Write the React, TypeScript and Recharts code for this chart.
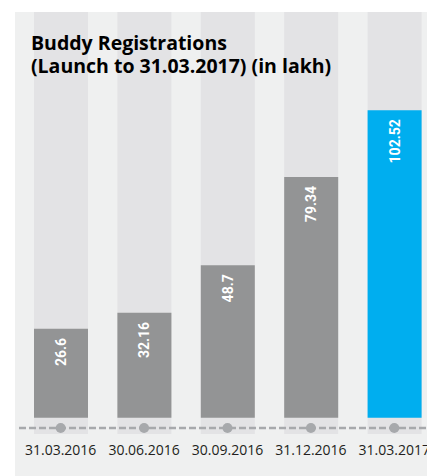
import React from 'react';
import { ComposedChart, Bar, Line, XAxis, YAxis, ReferenceLine, Cell, LabelList } from 'recharts';

const categories = ['31.03.2016', '30.06.2016', '30.09.2016', '31.12.2016', '31.03.2017'];
const registrations = [26.6, 32.16, 48.7, 79.34, 102.52];
const highlighted = [false, false, false, false, true];
const titleLines = ['Buddy Registrations', '(Launch to 31.03.2017) (in lakh)'];

const Y_DOMAIN: [number, number] = [-9.9, 136.6];
const BAR_BASE = -4.24;
const RAIL_LEVEL = -7.8;

const data = categories.map((c, i) => ({ cat: c, value: registrations[i], hl: highlighted[i] }));

const GRAY = '#939495';
const BLUE = '#00aeef';
const COLUMN = '#e3e3e5';
const PANEL = '#eff0f0';
const RAIL = '#a7a9ac';

const ValueLabel = (props: any) => {
  const { x, y, width, value } = props;
  const cx = x + width / 2;
  const ty = y + 9;
  return (
    <text
      x={cx}
      y={ty}
      transform={`rotate(-90 ${cx} ${ty})`}
      textAnchor="end"
      dominantBaseline="central"
      fill="#ffffff"
      fontFamily="Roboto, sans-serif"
      fontWeight={700}
      fontSize={14}
    >
      {value}
    </text>
  );
};

const Tick = (props: any) => {
  const { x, y, payload } = props;
  return (
    <text x={x} y={y + 21} textAnchor="middle" fill="#231f20" fontFamily="'Open Sans', sans-serif" fontSize={14}>
      {payload.value}
    </text>
  );
};

export default function App() {
  return (
    <div style={{ position: 'absolute', left: 0, top: 0, width: 427, height: 476, overflow: 'hidden', background: '#ffffff' }}>
      <div style={{ position: 'absolute', left: 15, top: 12, right: 0, bottom: 0, background: PANEL }} />
      <div style={{ position: 'absolute', left: 0, top: 0 }}>
        <ComposedChart width={437} height={476} data={data} margin={{ top: 12, right: 1, bottom: 0, left: 19 }}>
          <XAxis dataKey="cat" height={42} axisLine={false} tickLine={false} tickSize={0} tickMargin={0} tick={<Tick />} interval={0} />
          <YAxis hide domain={Y_DOMAIN} allowDataOverflow />
          <Bar
            dataKey={(d: any) => [BAR_BASE, d.value]}
            barSize={54}
            background={{ fill: COLUMN }}
            isAnimationActive={false}
          >
            {data.map((d, i) => (
              <Cell key={i} fill={d.hl ? BLUE : GRAY} />
            ))}
            <LabelList dataKey="value" content={<ValueLabel />} />
          </Bar>
          <ReferenceLine y={RAIL_LEVEL} stroke={RAIL} strokeWidth={2.5} strokeDasharray="7 3" />
          <Line
            dataKey={() => RAIL_LEVEL}
            stroke="none"
            dot={{ r: 5, fill: RAIL, stroke: 'none' }}
            activeDot={false}
            isAnimationActive={false}
          />
        </ComposedChart>
      </div>
      <div
        style={{
          position: 'absolute',
          left: 31,
          top: 31,
          fontFamily: "'Open Sans', sans-serif",
          fontWeight: 700,
          fontSize: 19.5,
          lineHeight: '23px',
          color: '#000000',
          whiteSpace: 'nowrap',
        }}
      >
        {titleLines[0]}
        <br />
        {titleLines[1]}
      </div>
    </div>
  );
}
